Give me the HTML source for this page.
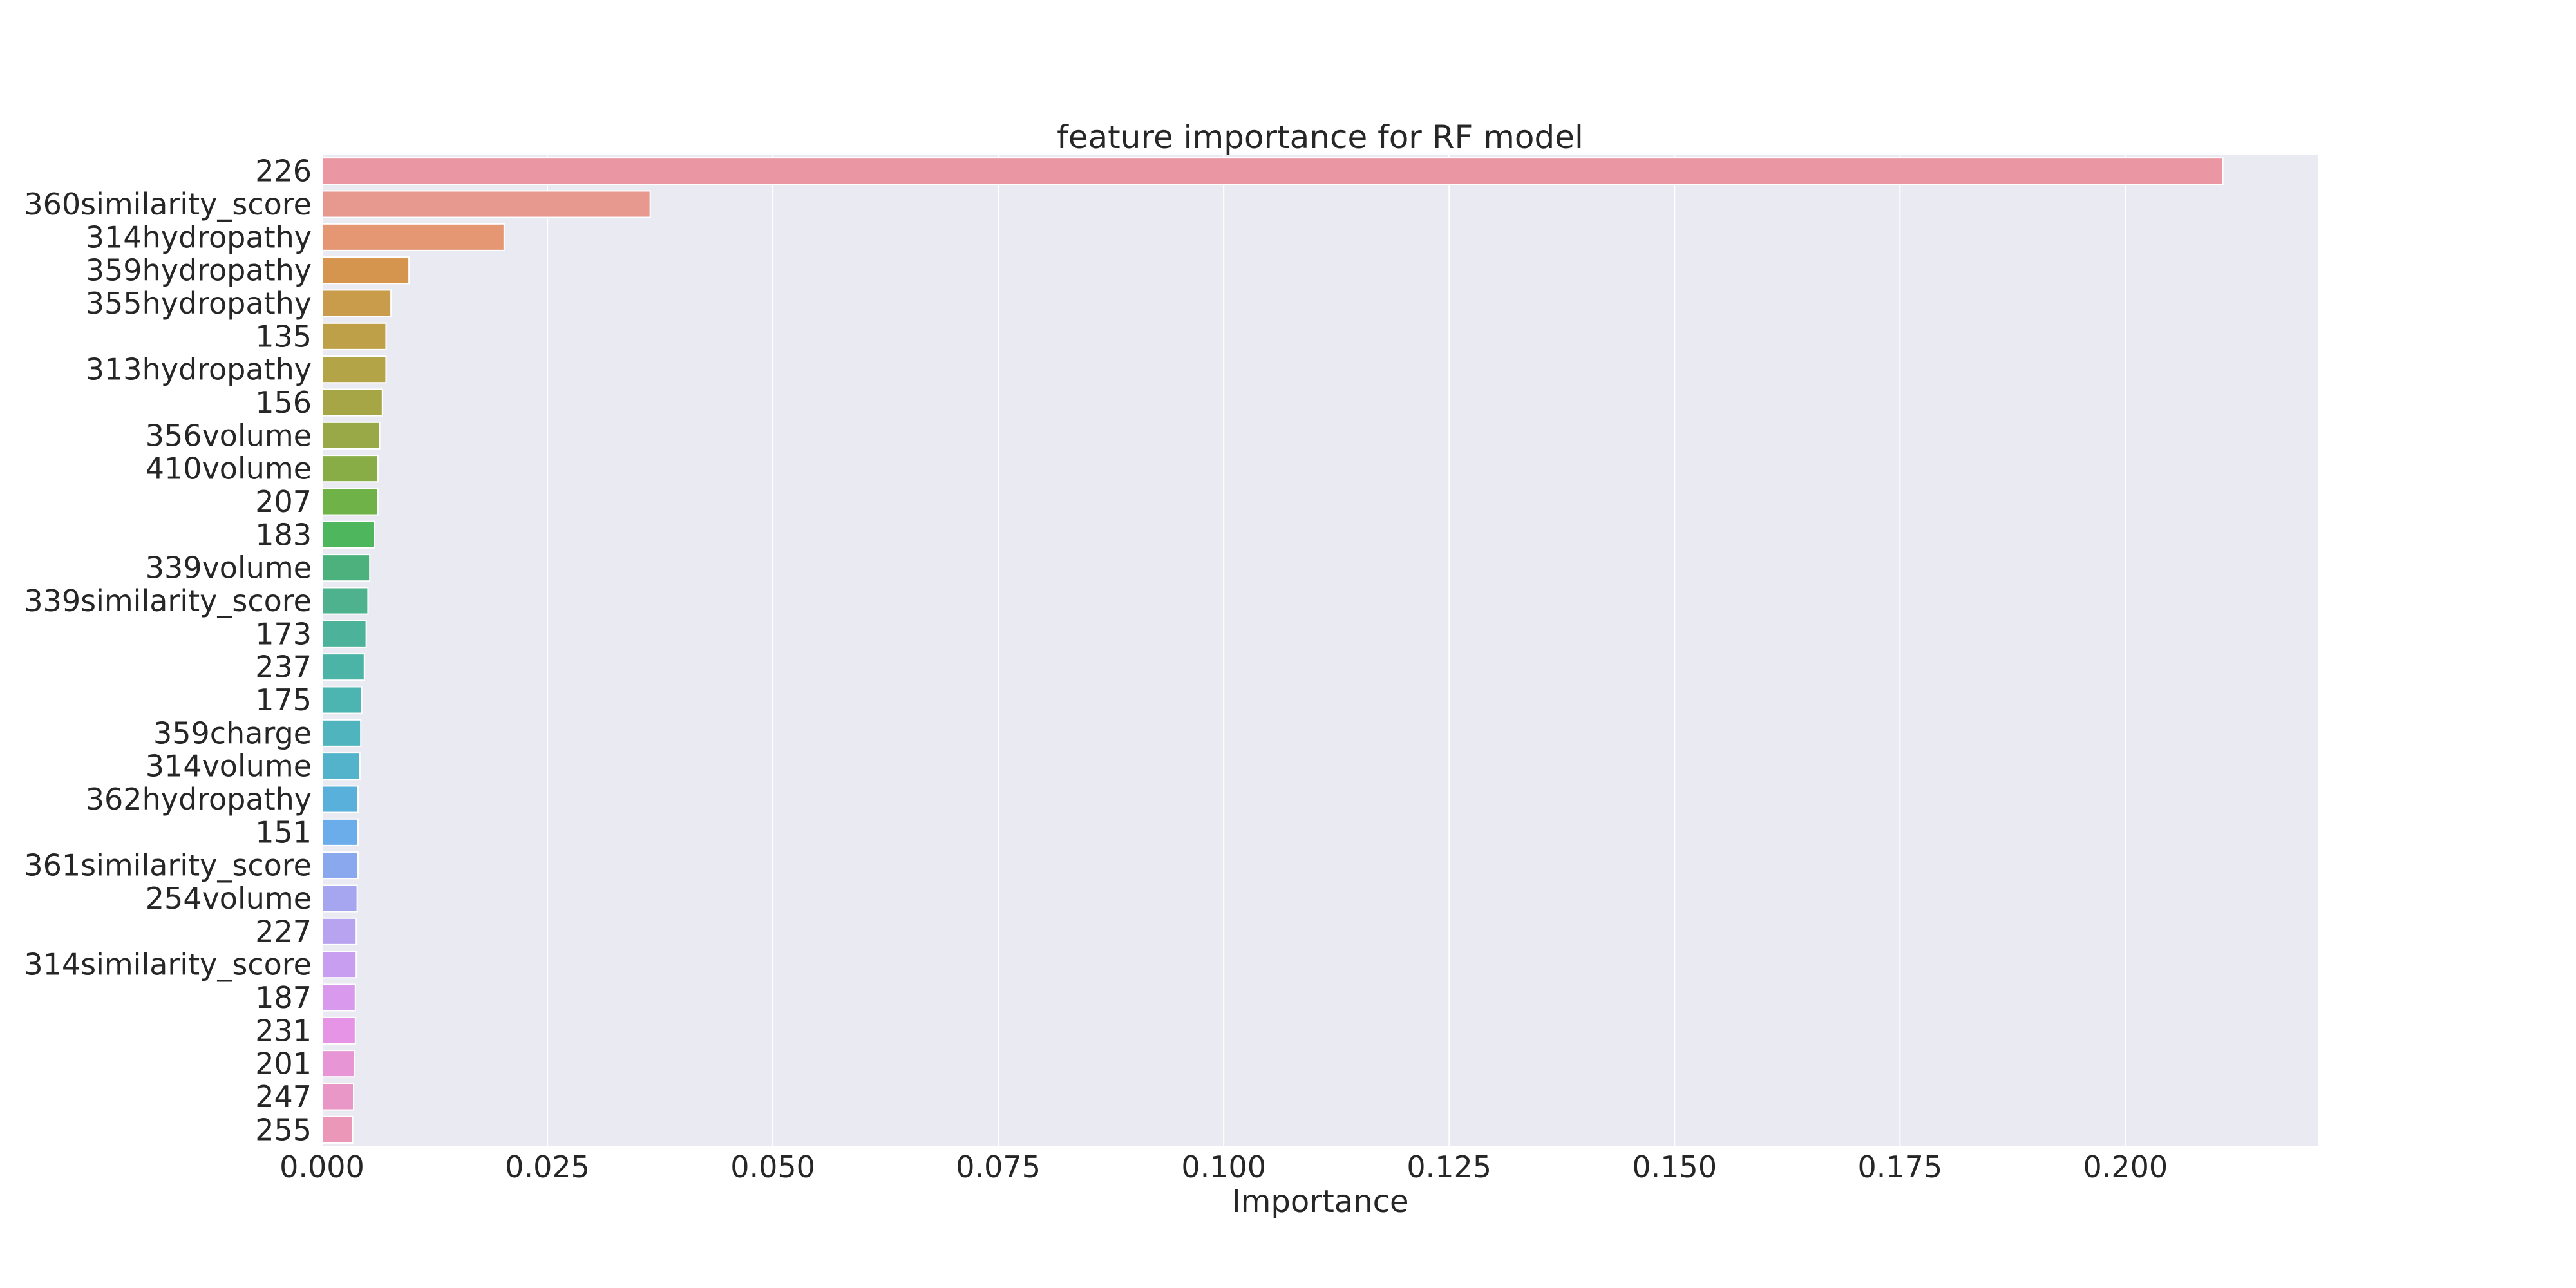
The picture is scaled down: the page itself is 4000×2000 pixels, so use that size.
<!DOCTYPE html>
<html><head><meta charset="utf-8">
<style>
html,body{margin:0;padding:0;background:#fff;}
svg{display:block;font-family:"DejaVu Sans","Liberation Sans",sans-serif;}
</style></head>
<body>
<svg id="chart" width="4000" height="2000" viewBox="0 0 4000 2000" xmlns="http://www.w3.org/2000/svg">
<rect x="500" y="240" width="3100" height="1540" fill="#eaeaf2"/>
<g id="grid"></g>
<g id="bars"></g>
<g id="ylabels"></g>
<g id="xticks"></g>
<text x="2050" y="230" font-size="50" fill="#262626" text-anchor="middle">feature importance for RF model</text>
<text x="2050" y="1882" font-size="48" fill="#262626" text-anchor="middle">Importance</text>
</svg>
<script>
const categories = ["226","360similarity_score","314hydropathy","359hydropathy","355hydropathy","135","313hydropathy","156","356volume","410volume","207","183","339volume","339similarity_score","173","237","175","359charge","314volume","362hydropathy","151","361similarity_score","254volume","227","314similarity_score","187","231","201","247","255"];
const values = [0.2108,0.0364,0.0202,0.00965,0.00765,0.0071,0.0071,0.0067,0.0064,0.0062,0.0062,0.0058,0.0053,0.0051,0.0049,0.0047,0.0044,0.0043,0.0042,0.0040,0.0040,0.0040,0.0039,0.0038,0.0038,0.0037,0.0037,0.0036,0.0035,0.0034];
const tickValues = [0,0.025,0.05,0.075,0.1,0.125,0.15,0.175,0.2];
const tickLabels = ["0.000","0.025","0.050","0.075","0.100","0.125","0.150","0.175","0.200"];
const colors = ["#ea96a3","#e8998f","#e59673","#d5954e","#c89c4b","#bda048","#b3a447","#a6a647","#9aa947","#88ad46","#6fb248","#4eb65d","#4cb17d","#4db28d","#4cb39a","#4cb4a6","#4db5b1","#4fb4bd","#52b3cb","#59b0da","#6bacea","#8aa8ee","#a6a5ef","#b7a3ef","#c89ff0","#d99aee","#e694e6","#e895d6","#e997c7","#ea97b8"];
const NS="http://www.w3.org/2000/svg";
const L=500,R=3600,T=240,B=1780,XMAX=0.2214;
const xs=v=>L+(v/XMAX)*(R-L);
const band=(B-T)/categories.length;
const grid=document.getElementById('grid'),bars=document.getElementById('bars'),yl=document.getElementById('ylabels'),xt=document.getElementById('xticks');
tickValues.forEach((v,i)=>{
  const ln=document.createElementNS(NS,'line');
  
  
  ln.setAttribute('x1',xs(v));ln.setAttribute('x2',xs(v));ln.setAttribute('y1',T);ln.setAttribute('y2',B);
  ln.setAttribute('stroke','#fff');ln.setAttribute('stroke-width','2');
  grid.appendChild(ln);
  const t=document.createElementNS(NS,'text');
  
  
  t.setAttribute('x',xs(v));t.setAttribute('y',1828);t.setAttribute('font-size','46');t.setAttribute('fill','#262626');t.setAttribute('text-anchor','middle');
  t.textContent=tickLabels[i];xt.appendChild(t);
});
categories.forEach((c,i)=>{
  const yc=T+band*(i+0.5);
  const r=document.createElementNS(NS,'rect');
  
  
  r.setAttribute('x',xs(0));r.setAttribute('y',yc-band*0.4);r.setAttribute('width',xs(values[i])-xs(0));r.setAttribute('height',band*0.8);
  r.setAttribute('fill',colors[i%colors.length]);r.setAttribute('stroke','#fff');r.setAttribute('stroke-width','2');
  bars.appendChild(r);
  const t=document.createElementNS(NS,'text');
  
  
  t.setAttribute('x',484);t.setAttribute('y',yc+16);t.setAttribute('font-size','46');t.setAttribute('fill','#262626');t.setAttribute('text-anchor','end');
  t.textContent=c;yl.appendChild(t);
});
</script>
</body></html>
